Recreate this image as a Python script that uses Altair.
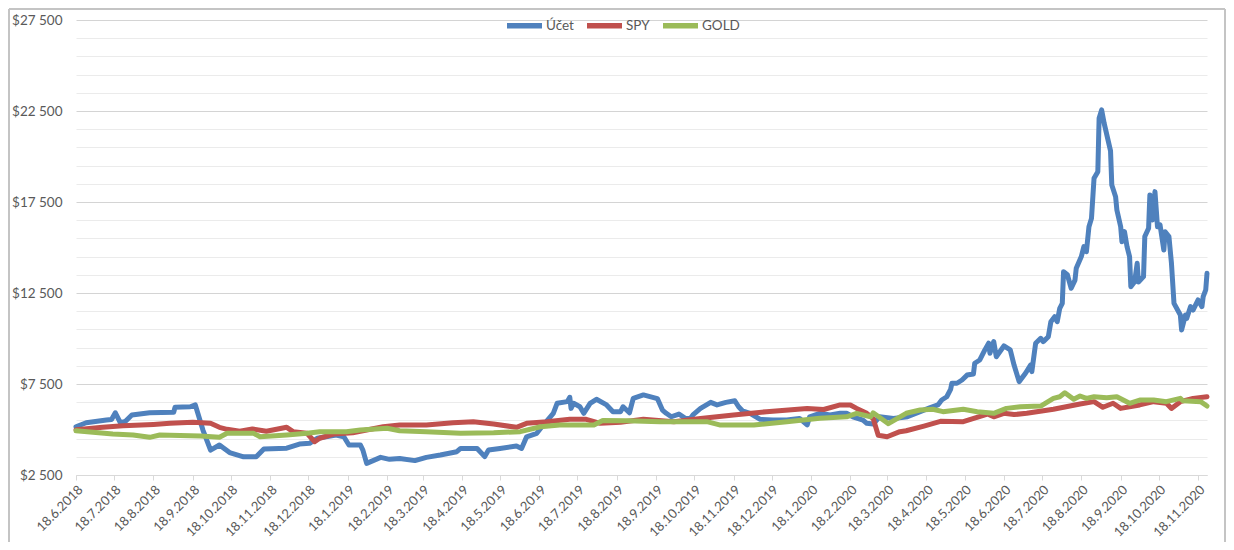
import altair as alt
import pandas as pd

START = pd.Timestamp("2018-06-18")

# (day offset from 18.6.2018, value in $)
ucet = [(0, 5150), (8, 5370), (24, 5520), (28, 5550), (31, 5920), (35, 5370), (39, 5450), (44, 5800),
        (58, 5920), (77, 5950), (78, 6220), (90, 6250), (94, 6350), (100, 4970), (106, 3870), (113, 4150),
        (121, 3730), (132, 3500), (142, 3500), (148, 3930), (166, 3970), (176, 4200), (184, 4240), (190, 4520),
        (205, 4700), (211, 4600), (215, 4150), (224, 4150), (226, 3870), (229, 3140), (240, 3470), (247, 3360),
        (255, 3410), (267, 3290), (276, 3470), (287, 3600), (300, 3780), (303, 3960), (316, 3960), (322, 3510),
        (325, 3870), (334, 3960), (347, 4090), (351, 3960), (355, 4600), (363, 4790), (367, 5150), (371, 5480),
        (376, 5890), (379, 6440), (387, 6530), (389, 6770), (390, 6160), (392, 6440), (397, 6250), (400, 5890),
        (405, 6440), (410, 6660), (418, 6350), (423, 5980), (429, 5980), (431, 6250), (436, 5920), (439, 6710),
        (447, 6900), (458, 6700), (462, 6070), (465, 5890), (469, 5700), (475, 5850), (480, 5610), (484, 5610),
        (486, 5800), (492, 6160), (500, 6490), (505, 6350), (512, 6490), (519, 6580), (522, 6250), (525, 6030),
        (531, 5890), (539, 5560), (549, 5520), (560, 5520), (570, 5610), (576, 5250), (578, 5700), (586, 5890),
        (594, 5800), (602, 5890), (607, 5890), (612, 5700), (620, 5520), (623, 5340), (628, 5300), (633, 5700),
        (644, 5610), (655, 5700), (665, 5980), (673, 6200), (679, 6350), (682, 6620), (686, 6800), (689, 7200),
        (690, 7540), (694, 7540), (698, 7720), (702, 7990), (707, 8050), (708, 8640), (712, 8820), (716, 9370),
        (719, 9740), (720, 9190), (723, 9830), (725, 9000), (731, 9590), (736, 9370), (739, 8540), (743, 7630),
        (748, 8090), (752, 8540), (753, 8180), (756, 9740), (760, 10010), (762, 9830), (766, 10100), (768, 10920),
        (771, 11200), (773, 10920), (775, 11660), (777, 11930), (778, 13670), (781, 13500), (784, 12760),
        (787, 13210), (788, 13860), (792, 14500), (794, 15050), (796, 14770), (798, 16140), (800, 16600),
        (802, 18800), (805, 19160), (806, 22100), (808, 22560), (810, 21820), (815, 20310), (816, 18430),
        (819, 17790), (820, 17060), (823, 16140), (824, 15320), (826, 15870), (828, 15050), (830, 14500),
        (831, 12850), (834, 13120), (836, 14130), (837, 13100), (841, 13400), (842, 15600), (845, 16060),
        (846, 17890), (848, 16510), (850, 18070), (852, 16140), (854, 16240), (857, 14860), (858, 15870),
        (861, 15600), (863, 14130), (865, 11930), (870, 11290), (871, 10470), (874, 11290), (875, 11100),
        (878, 11750), (880, 11560), (884, 12120), (887, 11750), (888, 12300), (890, 12670), (891, 13580)]

spy = [(0, 4990), (21, 5120), (37, 5200), (61, 5280), (74, 5340), (92, 5400), (106, 5340), (113, 5120),
       (119, 5010), (129, 4900), (139, 5030), (150, 4900), (166, 5120), (171, 4880), (182, 4790), (188, 4330),
       (192, 4520), (203, 4750), (218, 4820), (229, 4970), (242, 5150), (255, 5250), (276, 5250), (297, 5370),
       (313, 5430), (329, 5300), (347, 5120), (355, 5340), (371, 5430), (389, 5560), (402, 5560), (413, 5340),
       (429, 5400), (447, 5560), (471, 5430), (492, 5610), (518, 5800), (544, 5980), (576, 6160), (589, 6100),
       (602, 6350), (610, 6350), (615, 6160), (623, 5890), (628, 5600), (632, 4680), (639, 4600), (649, 4880),
       (654, 4930), (668, 5190), (681, 5450), (699, 5430), (718, 5850), (723, 5700), (731, 5890), (739, 5820),
       (749, 5890), (770, 6110), (791, 6400), (802, 6530), (809, 6220), (817, 6440), (823, 6160), (838, 6350),
       (849, 6530), (859, 6440), (863, 6160), (870, 6530), (880, 6710), (891, 6800)]

gold = [(0, 4930), (29, 4750), (45, 4700), (58, 4570), (66, 4700), (98, 4640), (113, 4570), (119, 4790),
        (140, 4790), (145, 4600), (166, 4700), (182, 4790), (192, 4880), (213, 4880), (224, 4970), (245, 5070),
        (255, 4930), (276, 4880), (303, 4790), (329, 4820), (350, 4880), (366, 5150), (381, 5250), (408, 5250),
        (415, 5500), (434, 5480), (460, 5430), (471, 5430), (497, 5430), (507, 5250), (534, 5250), (560, 5430),
        (586, 5620), (607, 5700), (615, 5890), (626, 5700), (628, 5920), (640, 5320), (654, 5890), (665, 6070),
        (675, 6110), (683, 5980), (699, 6110), (710, 5980), (723, 5890), (733, 6160), (744, 6250), (760, 6290),
        (770, 6710), (775, 6800), (779, 7020), (786, 6660), (791, 6840), (796, 6710), (802, 6800), (812, 6750),
        (820, 6800), (830, 6440), (838, 6620), (849, 6620), (859, 6530), (870, 6710), (872, 6580), (886, 6530),
        (891, 6290)]

series_names = ["Účet", "SPY", "GOLD"]
series_colors = ["#4F81BD", "#C0504D", "#9BBB59"]

tick_labels = ["18.6.2018", "18.7.2018", "18.8.2018", "18.9.2018", "18.10.2018", "18.11.2018", "18.12.2018",
               "18.1.2019", "18.2.2019", "18.3.2019", "18.4.2019", "18.5.2019", "18.6.2019", "18.7.2019",
               "18.8.2019", "18.9.2019", "18.10.2019", "18.11.2019", "18.12.2019", "18.1.2020", "18.2.2020",
               "18.3.2020", "18.4.2020", "18.5.2020", "18.6.2020", "18.7.2020", "18.8.2020", "18.9.2020",
               "18.10.2020", "18.11.2020"]

y_grid = list(range(2500, 27501, 1000))

rows = []
for name, pts in zip(series_names, [ucet, spy, gold]):
    for d, v in pts:
        rows.append({"date": START + pd.Timedelta(days=d), "value": v, "series": name})
df = pd.DataFrame(rows)


def to_dt(s):
    d, m, y = s.split(".")
    return alt.DateTime(year=int(y), month=int(m), date=int(d))


tick_dt = [to_dt(s) for s in tick_labels]
end_dt = alt.DateTime(year=2020, month=11, date=25)

FONT = "Lato"
LABEL = "#595959"

x_enc = alt.X(
    "date:T",
    scale=alt.Scale(domain=[tick_dt[0], end_dt]),
    axis=alt.Axis(values=tick_dt, format="%-d.%-m.%Y", labelAngle=-45, grid=False,
                  domainColor="#d9d9d9", tickColor="#d9d9d9", tickSize=5, labelColor=LABEL,
                  labelFontSize=13, labelFont=FONT, title=None, labelOverlap=False, labelPadding=3),
)
y_enc = alt.Y(
    "value:Q",
    scale=alt.Scale(domain=[2500, 27500], nice=False, zero=False),
    axis=alt.Axis(values=y_grid, domain=False, ticks=False, title=None, labelColor=LABEL,
                  labelFontSize=13.5, labelFont=FONT, labelPadding=14,
                  labelExpr="(datum.value - 2500) % 5000 == 0 ? '$' + replace(format(datum.value, ','), ',', ' ') : ''",
                  gridColor={"condition": {"test": "(datum.value - 2500) % 5000 == 0", "value": "#d4d4d4"},
                             "value": "#ebebeb"},
                  gridWidth=1),
)
color_enc = alt.Color(
    "series:N",
    scale=alt.Scale(domain=series_names, range=series_colors),
    sort=series_names,
    legend=alt.Legend(orient="none", legendX=428, legendY=-15, direction="horizontal", title=None,
                      symbolType="stroke", symbolStrokeWidth=5.5, symbolSize=1225, labelFontSize=13.5,
                      labelColor=LABEL, labelFont=FONT, columnPadding=2, labelOffset=1),
)

# Excel-style chart-area border (left, top, right edges), kept inside the svg
frame_src = alt.Chart(pd.DataFrame({"f": [0]}))
frame_style = dict(color="#c4c4c4", strokeWidth=2)
frame_left = frame_src.mark_rule(**frame_style).encode(
    x=alt.value(-67), y=alt.value(-11), y2=alt.value(522))
frame_top = frame_src.mark_rule(**frame_style).encode(
    x=alt.value(-67), x2=alt.value(1149), y=alt.value(-11))
frame_right = frame_src.mark_rule(**frame_style).encode(
    x=alt.value(1149), y=alt.value(-11), y2=alt.value(522))

layers = [
    alt.Chart(df).transform_filter(alt.datum.series == name)
    .mark_line(strokeWidth=5, strokeJoin="round", strokeCap="round")
    .encode(x=x_enc, y=y_enc, color=color_enc)
    for name in series_names
]

chart = (
    alt.layer(frame_left, frame_top, frame_right, *layers)
    .properties(width=1131, height=455, padding={"left": 68, "top": 12, "right": 19, "bottom": 67},
                autosize=alt.AutoSizeParams(type="none"), background="white")
    .configure_view(stroke=None)
)

chart.save("out.html", embed_options={"renderer": "svg", "actions": False})
